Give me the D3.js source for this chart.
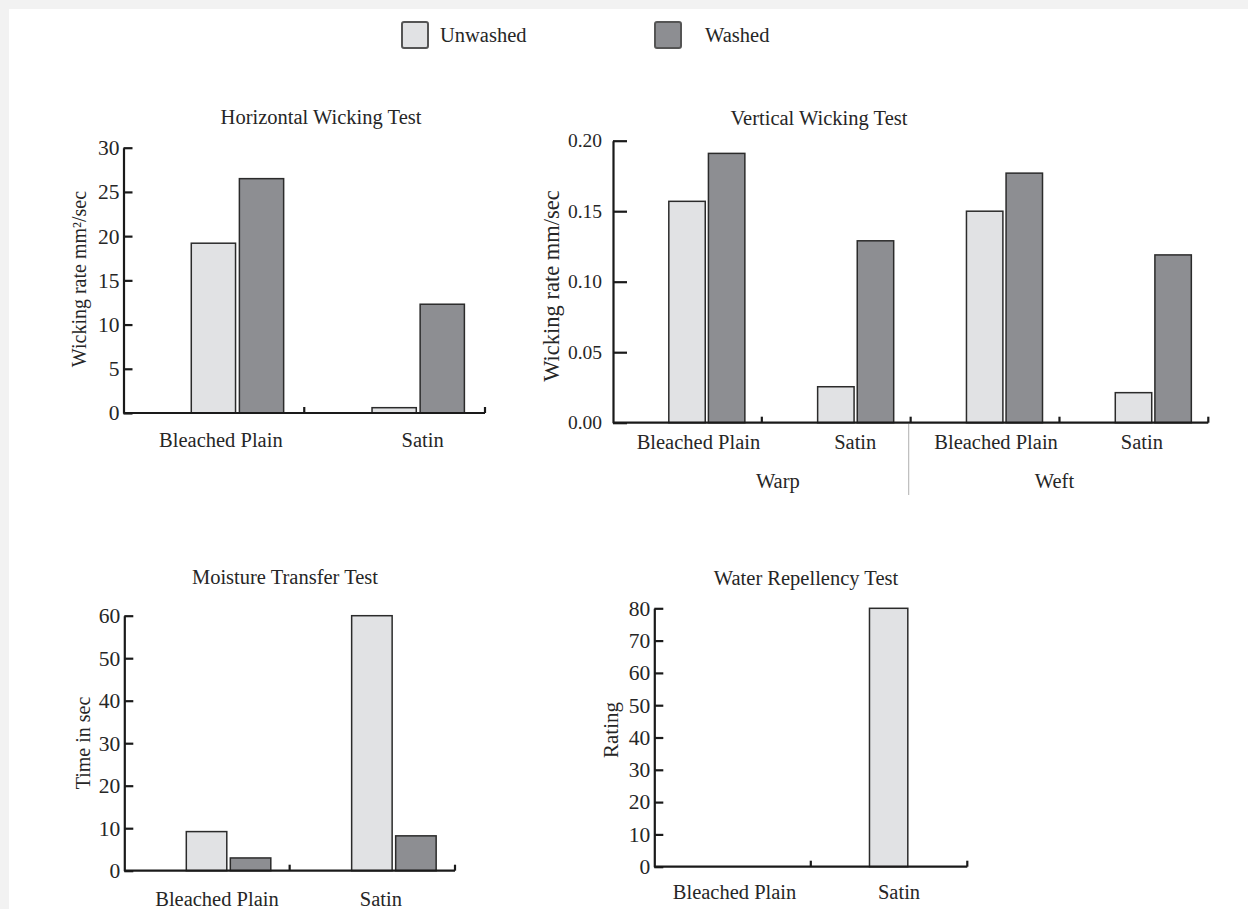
<!DOCTYPE html>
<html>
<head>
<meta charset="utf-8">
<script src="https://cdn.jsdelivr.net/npm/d3@7/dist/d3.min.js"></script>
<style>
    body { margin: 0; background: #f2f2f2; }
    svg { display: block; }
    text { font-family: "Liberation Serif", "Times New Roman", serif; fill: #262626; }
</style>
</head>
<body>
<div id="chart"></div>
<script>
const SERIF = '"Liberation Serif", "Times New Roman", serif';

const SERIES = ["Unwashed", "Washed"];
const FABRICS = ["Bleached Plain", "Satin"];

const HORIZONTAL_UNWASHED = [19.2, 0.6];
const HORIZONTAL_WASHED = [26.5, 12.3];
const HORIZONTAL_TICKS = [0, 5, 10, 15, 20, 25, 30];

const DIRECTIONS = ["Warp", "Weft"];
const VERTICAL_CATEGORIES = ["Warp Bleached Plain", "Warp Satin", "Weft Bleached Plain", "Weft Satin"];
const VERTICAL_LABELS = ["Bleached Plain", "Satin", "Bleached Plain", "Satin"];
const VERTICAL_UNWASHED = [0.157, 0.0255, 0.150, 0.0213];
const VERTICAL_WASHED = [0.191, 0.129, 0.177, 0.119];
const VERTICAL_TICKS = [0, 0.05, 0.10, 0.15, 0.20];

const MOISTURE_UNWASHED = [9.2, 60];
const MOISTURE_WASHED = [3.0, 8.2];
const MOISTURE_TICKS = [0, 10, 20, 30, 40, 50, 60];

const REPELLENCY_UNWASHED = [0, 80];
const REPELLENCY_WASHED = [0, 0];
const REPELLENCY_TICKS = [0, 10, 20, 30, 40, 50, 60, 70, 80];

const FILLS = { Unwashed: "#e1e2e4", Washed: "#8d8e92" };

const svg = d3.select("#chart").append("svg")
    .attr("width", 1248)
    .attr("height", 909);

svg.append("rect").attr("width", 1248).attr("height", 909).attr("fill", "#f2f2f2");
svg.append("rect").attr("x", 9).attr("y", 9).attr("width", 1239).attr("height", 900).attr("fill", "#fff");

// legend
const legend = svg.append("g");
const legendX = d3.scalePoint().domain(SERIES).range([402, 655]);
SERIES.forEach(s => {
    legend.append("rect")
        .attr("x", legendX(s)).attr("y", 22)
        .attr("width", 26).attr("height", 26)
        .attr("rx", 2)
        .attr("fill", FILLS[s])
        .attr("stroke", "#555").attr("stroke-width", 2);
    legend.append("text")
        .attr("x", legendX(s) + (s === "Unwashed" ? 38 : 50))
        .attr("y", 35).attr("dy", "0.35em")
        .style("font-family", SERIF)
        .style("font-size", "20.5px")
        .text(s);
});

drawPanel({
    title: "Horizontal Wicking Test", titleX: 321, titleY: 117,
    yLabel: "Wicking rate mm²/sec", yLabelDx: -45, yLabelY: 279, yLabelFont: 20,
    categories: FABRICS, labels: FABRICS, labelShift: [7, 28],
    values: { Unwashed: HORIZONTAL_UNWASHED, Washed: HORIZONTAL_WASHED },
    ticks: HORIZONTAL_TICKS, format: d3.format("d"),
    x0: 123.5, x1: 485, yTop: 147.7, yBottom: 413,
    tickLen: 9, tickPad: 4, labelDy: 27, font: 21.5
});

const vertical = drawPanel({
    title: "Vertical Wicking Test", titleX: 819, titleY: 118,
    yLabel: "Wicking rate mm/sec", yLabelDx: -62, yLabelY: 286, yLabelFont: 22.5,
    categories: VERTICAL_CATEGORIES, labels: VERTICAL_LABELS, labelShift: [11, 19, 11, 8],
    values: { Unwashed: VERTICAL_UNWASHED, Washed: VERTICAL_WASHED },
    ticks: VERTICAL_TICKS, format: d3.format(".2f"),
    x0: 613, x1: 1208.3, yTop: 140.7, yBottom: 422.7,
    tickLen: 14, tickPad: 11, labelDy: 19, font: 19.5
});

// Warp / Weft group labels with separator
DIRECTIONS.forEach((dir, i) => {
    const x = vertical.x;
    const start = x(VERTICAL_CATEGORIES[i * 2]);
    const end = x(VERTICAL_CATEGORIES[i * 2 + 1]) + x.bandwidth();
    vertical.g.append("text")
        .attr("x", (start + end) / 2 + (i === 0 ? 16 : -5))
        .attr("y", 481).attr("dy", "0.35em")
        .attr("text-anchor", "middle")
        .style("font-family", SERIF)
        .style("font-size", "20.5px")
        .text(dir);
});
vertical.g.append("line")
    .attr("x1", vertical.x(VERTICAL_CATEGORIES[2]) - 2)
    .attr("x2", vertical.x(VERTICAL_CATEGORIES[2]) - 2)
    .attr("y1", 424).attr("y2", 495)
    .attr("stroke", "#bdbdbd").attr("stroke-width", 1.2);

drawPanel({
    title: "Moisture Transfer Test", titleX: 285, titleY: 577,
    yLabel: "Time in sec", yLabelDx: -41, yLabelY: 743, yLabelFont: 20,
    categories: FABRICS, labels: FABRICS, labelShift: [10, 8.5],
    values: { Unwashed: MOISTURE_UNWASHED, Washed: MOISTURE_WASHED },
    ticks: MOISTURE_TICKS, format: d3.format("d"),
    x0: 124.3, x1: 455, yTop: 615.7, yBottom: 870.7,
    tickLen: 9, tickPad: 4, labelDy: 28, font: 21.5
});

drawPanel({
    title: "Water Repellency Test", titleX: 806, titleY: 578,
    yLabel: "Rating", yLabelDx: -43.5, yLabelY: 730, yLabelFont: 21,
    categories: FABRICS, labels: FABRICS, labelShift: [2, 10],
    values: { Unwashed: REPELLENCY_UNWASHED, Washed: REPELLENCY_WASHED },
    ticks: REPELLENCY_TICKS, format: d3.format("d"),
    x0: 654.3, x1: 967.3, yTop: 608.3, yBottom: 866.7,
    tickLen: 9, tickPad: 4, labelDy: 25, font: 21.5
});

function drawPanel(cfg) {
    const g = svg.append("g");

    const x = d3.scaleBand().domain(cfg.categories).range([cfg.x0, cfg.x1]).padding(0);
    const bw = x.bandwidth();
    const inner = d3.scaleBand().domain(SERIES).range([0.375 * bw, 0.886 * bw]).paddingInner(0.08);
    const y = d3.scaleLinear().domain(d3.extent(cfg.ticks)).range([cfg.yBottom, cfg.yTop]);

    const rows = cfg.categories.map((c, i) => ({
        key: c,
        label: cfg.labels[i],
        shift: cfg.labelShift[i],
        bars: SERIES.map(s => ({ series: s, value: cfg.values[s][i] })).filter(b => b.value > 0)
    }));

    // bars
    const groups = g.selectAll(".cat")
        .data(rows)
        .enter().append("g")
        .attr("transform", d => `translate(${x(d.key)},0)`);

    groups.selectAll("rect")
        .data(d => d.bars)
        .enter().append("rect")
        .attr("x", d => inner(d.series))
        .attr("y", d => y(d.value))
        .attr("width", inner.bandwidth())
        .attr("height", d => y(0) - y(d.value))
        .attr("fill", d => FILLS[d.series])
        .attr("stroke", "#2b2b2b")
        .attr("stroke-width", 1.5);

    // category labels
    groups.append("text")
        .attr("x", d => bw / 2 + d.shift)
        .attr("y", cfg.yBottom + cfg.labelDy)
        .attr("dy", "0.35em")
        .attr("text-anchor", "middle")
        .style("font-family", SERIF)
        .style("font-size", "20.5px")
        .text(d => d.label);

    // x axis line with upward ticks at band ends
    g.append("line")
        .attr("x1", cfg.x0).attr("x2", cfg.x1)
        .attr("y1", y(0)).attr("y2", y(0))
        .attr("stroke", "#1a1a1a").attr("stroke-width", 2.2);
    g.selectAll(".xtick")
        .data(cfg.categories)
        .enter().append("line")
        .attr("x1", d => x(d) + bw).attr("x2", d => x(d) + bw)
        .attr("y1", y(0)).attr("y2", y(0) - 6)
        .attr("stroke", "#1a1a1a").attr("stroke-width", 2.2);

    // y axis with inward ticks
    const yAxis = g.append("g")
        .attr("transform", `translate(${cfg.x0},0)`)
        .call(d3.axisLeft(y)
            .tickValues(cfg.ticks)
            .tickFormat(cfg.format)
            .tickSizeInner(-cfg.tickLen)
            .tickSizeOuter(0)
            .tickPadding(cfg.tickPad));
    yAxis.attr("font-family", null).attr("font-size", null);
    yAxis.select(".domain").attr("stroke", "#1a1a1a").attr("stroke-width", 2.2);
    yAxis.selectAll(".tick line").attr("stroke", "#1a1a1a").attr("stroke-width", 2.2);
    yAxis.selectAll(".tick text")
        .attr("fill", "#262626")
        .style("font-family", SERIF)
        .style("font-size", cfg.font + "px");

    // title
    g.append("text")
        .attr("x", cfg.titleX).attr("y", cfg.titleY).attr("dy", "0.35em")
        .attr("text-anchor", "middle")
        .style("font-family", SERIF)
        .style("font-size", "20.5px")
        .text(cfg.title);

    // y label
    g.append("text")
        .attr("transform", `translate(${cfg.x0 + cfg.yLabelDx},${cfg.yLabelY}) rotate(-90)`)
        .attr("dy", "0.35em")
        .attr("text-anchor", "middle")
        .style("font-family", SERIF)
        .style("font-size", cfg.yLabelFont + "px")
        .text(cfg.yLabel);

    return { g, x, y };
}
</script>
</body>
</html>
